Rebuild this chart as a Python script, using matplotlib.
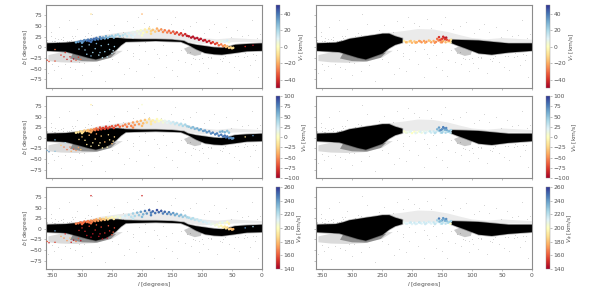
import matplotlib
matplotlib.use('Agg')
import matplotlib.pyplot as plt
from matplotlib.cm import ScalarMappable
from matplotlib.colors import Normalize

# outline of the black mass, left column
mass_l = [360, 327, 305, 290, 277, 260, 240, 227, 200, 177, 150, 130, 123, 110, 95, 80, 67, 55, 45, 25, 0,
          0, 25, 45, 67, 80, 95, 110, 123, 135, 177, 227, 235, 243, 252, 260, 277, 290, 305, 327, 360]
mass_b = [9.5, 11, 14, 17, 20, 22, 22, 20, 19, 19, 18, 15, 10, 6, 3, 0, -1, 2, 6, 8, 9.4,
          -8, -9, -13, -17, -16, -13, -4, 6, 13, 15, 13, 5, -6, -15, -22, -28, -24, -18, -10, -8]

# outline of the black mass, right column (hole where the selection is)
mass2a_l = [360, 327, 315, 304, 290, 277, 262, 249, 238, 228, 216, 216, 228, 238, 249, 265, 277, 290, 304, 321, 360]
mass2a_b = [9.5, 11, 15, 20, 23, 26, 29, 32, 32, 26, 21, 11, 6, -2, -14, -22, -28, -24, -18, -11, -8]
mass2b_l = [134, 111, 89, 67, 39, 0, 0, 39, 67, 89, 100, 111, 125, 134]
mass2b_b = [18, 17, 16, 13, 9.4, 9.4, -8, -12, -17, -14, -8, -2, 5, 10]

# fuzzy grey regions
lobe_l = [356, 330, 305, 280, 250, 232, 250, 280, 310, 335, 356]
lobe_b = [-18, -10, -8, -8, -8, -8, -24, -34, -36, -35, -32]
lobe2_l = [315, 280, 255, 243, 252, 275, 300, 320]
lobe2_b = [-14, -15, -15, -12, -24, -33, -32, -26]
arc_l = [300, 270, 240, 215, 190, 165, 140, 118, 100, 75, 50, 25, 0, 0, 30, 70, 100, 130, 160, 215, 240, 270, 300]
arc_b = [18, 28, 34, 38, 43, 42, 36, 28, 22, 19, 22, 20, 18, 12, 13, 11, 8, 14, 16, 16, 14, 14, 12]
clump_l = [130, 122, 110, 100, 102, 112, 124]
clump_b = [-3, 2, 0, -8, -17, -20, -14]

# stray stars
stray_l = [352, 345, 338, 331, 322, 316, 308, 299, 290, 283, 275, 268, 255, 246, 232, 225, 215, 207,
           196, 188, 175, 168, 152, 145, 132, 120, 110, 96, 88, 80, 72, 60, 52, 41, 33, 24, 16, 8, 4,
           350, 340, 328, 312, 296, 272, 240, 222, 205, 190, 172, 150, 128, 112, 98, 85, 66, 47, 30, 12,
           356, 347, 335, 320, 300, 285, 262, 230, 210, 180, 160, 142, 118, 105, 90, 75, 55, 38, 20, 6,
           345, 318, 270, 232, 195, 160, 120, 90, 62, 28, 338, 305, 250, 215, 175, 140, 100, 70, 40, 15,
           358, 350, 342, 335, 325, 315, 305, 295, 285, 358, 352, 346, 340, 332, 322, 312,
           225, 215, 205, 195, 180, 165, 150, 135, 125, 115, 105, 85, 65, 45, 25, 10]
stray_b = [35, 22, 48, 17, 64, 27, 42, 19, 33, 78, 55, 25, 40, 52, 36, 62, 47, 71, 58, 50, 66, 46, 55, 72, 44, 50, 60, 34, 43, 55, 36, 48, 24, 41, 27, 29, 64, 22, 31,
           -38, -44, -40, -50, -37, -42, -35, -48, -28, -40, -24, -52, -33, -27, -36, -25, -31, -45, -22, -30,
           -60, -52, -72, -46, -65, -56, -78, -62, -55, -70, -45, -68, -40, -55, -48, -60, -35, -52, -42, -70,
           14, 18, 21, 24, 12, -18, -10, -22, -20, -14, 12, -35, -28, -20, -15, -30, -25, -28, -20, -16,
           13, 16, 12, 20, 15, 22, 18, 26, 29, 17, 26, 14, 19, 24, 16, 27,
           -5, -12, 5, -8, -4, 6, -10, -6, -12, -24, -28, -22, -24, -20, -19, -18]

# selected stars, left column
l_sel = [310, 306, 302, 298, 296, 292, 290, 288, 285, 283, 280, 278, 276, 273, 270, 268, 265, 262, 260, 257, 254, 250, 247, 244, 240, 237, 300, 285,
         232, 228, 225, 222, 218, 215, 212, 208, 205, 202, 198, 195, 192, 188, 185, 182, 178, 175, 172, 168, 165, 162, 158, 155, 152, 148, 145, 142, 138, 135, 132, 128, 125, 215, 200, 185,
         122, 118, 115, 112, 108, 105, 102, 98, 95, 92, 88, 85, 82, 78, 75, 72, 68, 65, 62, 60, 58, 55, 52, 50, 48, 70, 66, 62, 58, 55,
         300, 295, 288, 282, 278, 272, 268, 262, 258, 254, 250, 246, 292, 285, 276, 266, 256, 248, 305, 270,
         355, 345, 335, 330, 325, 318, 314, 310, 306, 345, 320, 328, 302, 358, 200, 285, 15, 28]
b_sel = [12, 13, 15, 14, 17, 16, 18, 15, 19, 17, 20, 18, 22, 19, 24, 20, 23, 21, 26, 22, 25, 27, 23, 28, 30, 26, 11, 13,
         28, 31, 26, 33, 28, 36, 30, 38, 32, 40, 34, 42, 36, 44, 38, 41, 37, 44, 39, 42, 36, 40, 35, 39, 34, 37, 32, 35, 30, 33, 28, 31, 27, 24, 28, 32,
         26, 23, 25, 21, 22, 18, 20, 16, 17, 13, 15, 10, 12, 8, 10, 5, 7, 3, 5, 1, 3, -1, 0, -2, -1, 14, 15, 13, 16, 12,
         2, -6, 6, -12, -3, -18, 4, -10, -22, -5, -14, 2, -16, -20, 9, -24, 7, -8, -4, -12,
         -33, -5, -18, -22, -28, -32, -27, -30, -23, -32, -22, -12, -28, -30, 78, 78, 5, 2]
vr_sel = [30, 34, 36, 38, 36, 38, 40, 42, 38, 40, 42, 38, 40, 38, 36, 35, 34, 32, 30, 30, 28, 24, 25, 22, 20, 22, 32, 40,
          18, 15, 16, 12, 12, 8, 10, 5, 6, 2, 0, -4, -6, -10, -12, -15, -14, -20, -22, -24, -25, -28, -28, -30, -32, -34, -35, -38, -38, -40, -42, -42, -44, 10, 2, -12,
          -45, -46, -46, -47, -46, -47, -46, -46, -44, -45, -42, -42, -38, -38, -34, -32, -28, -25, -22, -18, -16, -14, -12, -10, -10, 6, 8, 10, 12, 5,
          28, 24, 26, 22, 25, 20, 26, 24, 18, 25, 15, 22, 24, 28, 30, 20, 24, 16, 26, 27,
          -35, -30, -38, -40, -42, -40, -45, -35, -38, -35, -40, -40, -30, -35, -20, -10, -45, -40]
vb_sel = [-15, -18, -22, -25, -28, -30, -35, -38, -42, -45, -50, -55, -60, -65, -70, -72, -75, -75, -78, -75, -72, -70, -72, -68, -65, -60, -20, -40,
          -55, -52, -58, -50, -52, -45, -48, -40, -45, -35, -35, -30, -25, -20, -15, -10, -8, -3, 0, 3, 8, 15, 18, 22, 25, 28, 30, 32, 35, 38, 40, 42, 45, -50, -35, -15,
          48, 50, 52, 55, 58, 60, 62, 65, 66, 68, 70, 72, 74, 75, 76, 78, 78, 80, 80, 78, 80, 75, 72, 70, 68, 55, 60, 55, 50, 50,
          -30, -20, -35, -15, -25, -10, -30, -40, -5, -20, -35, -25, -18, -8, -45, -12, -22, -15, -25, -18,
          70, 60, -30, -55, -60, -40, -65, -50, -45, 50, -55, 40, -30, 60, 5, -10, 70, -20]
vphi_sel = [168, 166, 165, 164, 166, 165, 168, 165, 170, 168, 172, 170, 175, 172, 180, 176, 184, 180, 190, 186, 194, 198, 192, 203, 208, 204, 164, 166,
            212, 216, 212, 222, 220, 226, 224, 232, 228, 238, 234, 245, 240, 252, 246, 250, 248, 255, 250, 252, 246, 250, 244, 246, 240, 240, 236, 236, 232, 232, 228, 228, 225, 218, 232, 245,
            224, 222, 222, 220, 218, 218, 216, 216, 214, 214, 212, 210, 208, 206, 204, 202, 198, 195, 192, 190, 188, 185, 182, 180, 178, 205, 210, 205, 200, 195,
            152, 148, 155, 146, 150, 145, 155, 150, 145, 152, 158, 156, 147, 144, 160, 146, 158, 160, 150, 148,
            150, 240, 175, 170, 172, 150, 145, 165, 160, 155, 180, 150, 145, 160, 150, 150, 225, 240]
n_ribbon = 94  # the dense arc comes first in the lists above

# selected stars, right column
l_sel2 = [213, 208, 204, 200, 196, 192, 188, 184, 180, 176, 172, 168, 164, 160, 156, 152, 148, 144, 140, 136,
          210, 202, 194, 186, 178, 170, 162, 154, 150, 146, 142, 138, 155, 152, 148, 145, 143, 150, 158, 135]
b_sel2 = [15, 12, 14, 11, 14, 12, 15, 12, 15, 13, 16, 12, 15, 13, 16, 12, 15, 12, 14, 12,
          12, 15, 11, 14, 11, 15, 11, 17, 20, 22, 18, 16, 24, 18, 25, 19, 23, 12, 20, 18]
vr_sel2 = [-5, -12, -14, -18, -15, -20, -22, -24, -22, -25, -18, -22, -20, -25, -24, -22, -20, -18, -14, -8,
           -18, -16, -20, -22, -20, -15, -25, -30, -38, -42, -35, -30, -40, -35, -42, -38, -45, -25, -30, -8]
vb_sel2 = [5, 15, 12, 0, 3, 5, 8, 10, 15, 18, 15, 25, 28, 30, 32, 35, 35, 40, 40, 38,
           10, 20, 18, 22, 25, 30, 35, 60, 70, 75, 60, 55, 65, 70, 75, 60, 72, 45, 55, 40]
vphi_sel2 = [210, 212, 214, 212, 216, 214, 218, 212, 215, 216, 215, 212, 218, 214, 216, 215, 218, 220, 222, 200,
             212, 216, 214, 215, 216, 214, 218, 232, 238, 235, 230, 225, 245, 230, 240, 235, 242, 222, 225, 225]

x_ticks = [350, 300, 250, 200, 150, 100, 50, 0]
y_ticks = [75, 50, 25, 0, -25, -50, -75]
labels = [r'$V_r$ [km/s]', r'$V_b$ [km/s]', r'$V_\phi$ [km/s]']
ranges = [(-50, 50), (-100, 100), (140, 260)]
cbar_ticks = [[40, 20, 0, -20, -40],
              [100, 75, 50, 25, 0, -25, -50, -75, -100],
              [260, 240, 220, 200, 180, 160, 140]]
left_vals = [vr_sel, vb_sel, vphi_sel]
right_vals = [vr_sel2, vb_sel2, vphi_sel2]

W, H = 598.0, 291.0
tops = [5.3, 96, 187]
bottoms = [88, 178, 269]
lefts = [46, 316]
rights = [262, 532]
cb_lefts = [275.5, 545.5]

grey = '#8c8c8c'
txt = '#555555'
fs = 4.3


def background(ax, right):
    ax.fill(lobe_l, lobe_b, color='k', alpha=0.14, lw=0)
    ax.fill(lobe2_l, lobe2_b, color='k', alpha=0.35, lw=0)
    ax.fill(arc_l, arc_b, color='k', alpha=0.08, lw=0)
    ax.fill(clump_l, clump_b, color='k', alpha=0.22, lw=0)
    ax.scatter(stray_l, stray_b, s=0.4, c='k', alpha=0.14, lw=0)
    if right:
        # soft edge first, then the solid part
        ax.fill(mass2a_l, mass2a_b, color='k', lw=1.2, ec='k', alpha=0.3)
        ax.fill(mass2b_l, mass2b_b, color='k', lw=1.2, ec='k', alpha=0.3)
        ax.fill(mass2a_l, mass2a_b, color='k', lw=0)
        ax.fill(mass2b_l, mass2b_b, color='k', lw=0)
    else:
        ax.fill(mass_l, mass_b, color='k', lw=1.2, ec='k', alpha=0.3)
        ax.fill(mass_l, mass_b, color='k', lw=0)


fig = plt.figure(figsize=(W / 100, H / 100), dpi=100)
for row in range(3):
    norm = Normalize(*ranges[row])
    for col in range(2):
        ax = fig.add_axes([lefts[col] / W, 1 - bottoms[row] / H,
                           (rights[col] - lefts[col]) / W, (bottoms[row] - tops[row]) / H])
        background(ax, col == 1)
        if col == 0:
            v = left_vals[row]
            ax.scatter(l_sel[:n_ribbon], b_sel[:n_ribbon], s=3.4, c=v[:n_ribbon],
                       cmap='RdYlBu', norm=norm, lw=0, zorder=3)
            ax.scatter(l_sel[n_ribbon:], b_sel[n_ribbon:], s=1.2, c=v[n_ribbon:],
                       cmap='RdYlBu', norm=norm, lw=0, zorder=3)
        else:
            ax.scatter(l_sel2, b_sel2, s=3.2, c=right_vals[row], cmap='RdYlBu', norm=norm, lw=0, zorder=3)
        ax.set_xlim(360, 0)
        ax.set_ylim(-95, 98.5)
        ax.set_xticks(x_ticks)
        ax.set_yticks(y_ticks)
        ax.tick_params(length=1.5, width=0.4, color=grey, labelsize=fs, labelcolor=txt, pad=1.5,
                       labelbottom=row == 2, labelleft=col == 0)
        for s in ax.spines.values():
            s.set_color(grey)
            s.set_linewidth(0.8)
        if col == 0:
            ax.set_ylabel(r'$b$ [degrees]', fontsize=fs, color=txt, labelpad=-1)
        if row == 2:
            ax.set_xlabel(r'$l$ [degrees]', fontsize=fs, color=txt, labelpad=1)

        cax = fig.add_axes([cb_lefts[col] / W, 1 - bottoms[row] / H,
                            4.5 / W, (bottoms[row] - tops[row]) / H])
        cb = fig.colorbar(ScalarMappable(norm=norm, cmap='RdYlBu'), cax=cax)
        cb.set_ticks(cbar_ticks[row])
        cb.ax.tick_params(length=1.5, width=0.4, color=grey, labelsize=fs, labelcolor=txt, pad=1)
        cb.outline.set_linewidth(0.3)
        cb.outline.set_edgecolor(grey)
        cb.set_label(labels[row], fontsize=fs, color=txt, labelpad=0.5)

fig.savefig('out.png', dpi=100)
